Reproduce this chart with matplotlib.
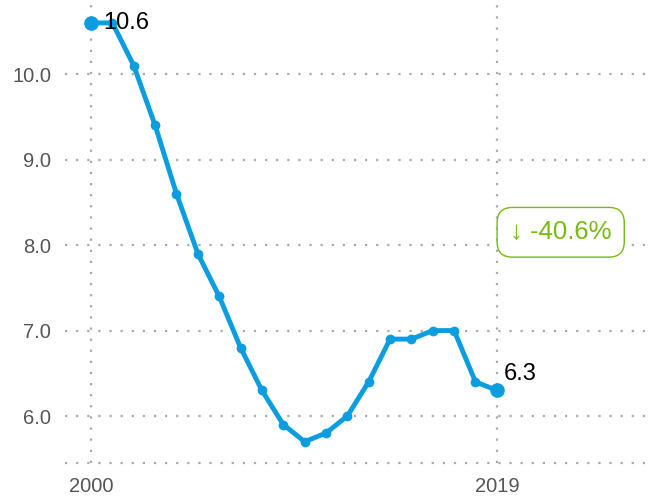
import numpy as np
import matplotlib.pyplot as plt

plt.rcParams['font.family'] = ['Liberation Sans', 'DejaVu Sans']

# Data
years = list(range(2000, 2020))
values = [10.6, 10.6, 10.1, 9.4, 8.6, 7.9, 7.4, 6.8, 6.3, 5.9,
          5.7, 5.8, 6.0, 6.4, 6.9, 6.9, 7.0, 7.0, 6.4, 6.3]
yticks = [6.0, 7.0, 8.0, 9.0, 10.0]
xticks = [2000, 2019]
change_label = "↓ -40.6%"

blue = '#0a9ddf'
green = '#77bb11'
grid_c = '#aaaaaa'

fig = plt.figure(figsize=(6.52, 4.96), dpi=100)
ax = fig.add_axes([0.0997, 0.0665, 0.8893, 0.9235])

ax.plot(years, values, color=blue, linewidth=3.5, marker='o', markersize=6, zorder=3)
ax.plot([years[0], years[-1]], [values[0], values[-1]], linestyle='none',
        marker='o', markersize=9.5, color=blue, zorder=4)

ax.set_xlim(1998.78, 2025.93)
ax.set_ylim(5.45, 10.81)
ax.set_xticks(xticks)
ax.set_yticks(yticks)
ax.set_yticklabels([f"{v:.1f}" for v in yticks])
ax.tick_params(length=0, labelsize=14.5, labelcolor='#555555', pad=10)

dots = (0, (1, 4))
ax.grid(True, color=grid_c, linestyle=dots, linewidth=1.6)
for s in ax.spines.values():
    s.set_visible(False)
ax.axhline(5.45, color=grid_c, linestyle=dots, linewidth=1.6, clip_on=False)

ax.annotate(f"{values[0]:.1f}", (years[0], values[0]), xytext=(9, 0),
            textcoords='offset points', fontsize=17, va='center', ha='left', zorder=5)
ax.annotate(f"{values[-1]:.1f}", (years[-1], values[-1]), xytext=(5, 12),
            textcoords='offset points', fontsize=17, va='center', ha='left', zorder=5)

ax.text(2021.99, 8.15, change_label, fontsize=18.5, color=green, ha='center', va='center',
        bbox=dict(boxstyle='round,pad=0.5,rounding_size=0.6', fc='white', ec=green, lw=1.0),
        zorder=5)

fig.savefig('out.png', dpi=100)
